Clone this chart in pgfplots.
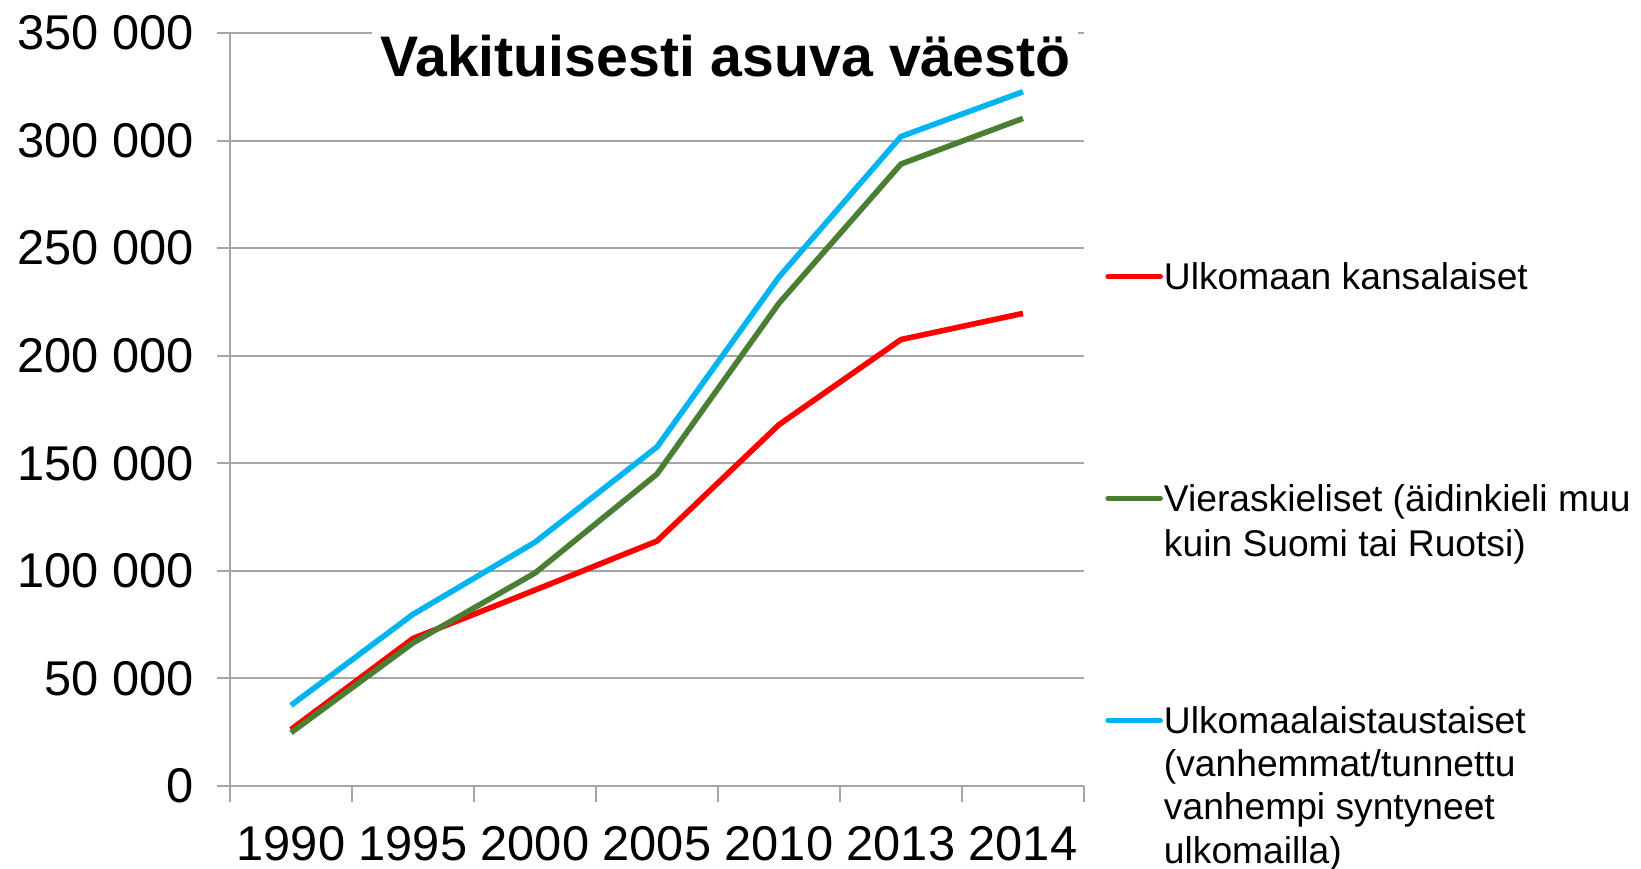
\documentclass[border=0pt]{standalone}
\usepackage{fontspec}
\setmainfont{Liberation Sans}
\usepackage{pgfplots}
\pgfplotsset{compat=1.18}
\definecolor{cred}{RGB}{255,0,0}
\definecolor{cgreen}{RGB}{74,126,50}
\definecolor{cblue}{RGB}{0,180,240}
\definecolor{cgrid}{RGB}{166,166,166}
\begin{document}
\begin{tikzpicture}
\useasboundingbox (-115pt,-41pt) rectangle (705.5pt,393pt);
\begin{axis}[
  scale only axis,
  width=427pt, height=376.5pt,
  xmin=-0.5, xmax=6.5,
  ymin=0, ymax=350000,
  scaled y ticks=false,
  axis x line=bottom, axis y line=left,
  axis line style={-, draw=cgrid, line width=1pt},
  tick align=outside,
  xtick={0,1,2,3,4,5,6},
  xticklabels={1990,1995,2000,2005,2010,2013,2014},
  major x tick style={draw=none},
  minor xtick={-0.5,0.5,1.5,2.5,3.5,4.5,5.5,6.5},
  minor x tick style={draw=cgrid, line width=1pt},
  minor tick length=8pt,
  major tick length=6.5pt,
  ytick={0,50000,100000,150000,200000,250000,300000,350000},
  yticklabels={0,50 000,100 000,150 000,200 000,250 000,300 000,350 000},
  y tick style={draw=cgrid, line width=1pt},
  ymajorgrids,
  grid style={draw=cgrid, line width=1pt},
  tick label style={font=\fontsize{24.4}{28}\selectfont, text=black},
  xticklabel style={yshift=-10pt},
  yticklabel style={xshift=-8pt},
  title={\bfseries Vakituisesti asuva väestö},
  title style={at={(rel axis cs:0.58,1)}, anchor=base, yshift=-28pt,
    fill=white, inner xsep=4pt, inner ysep=1pt, text height=30pt,
    font=\fontsize{28.6}{32}\selectfont},
  legend style={at={(rel axis cs:1,1)}, anchor=north west, xshift=10.5pt, yshift=-114pt,
    draw=none, fill=none, inner sep=0pt, row sep=0pt, column sep=0.5pt,
    font=\fontsize{18.6}{22.5}\selectfont,
    nodes={inner sep=0pt, text height=14pt, text depth=97pt}},
  legend cell align=left,
  legend image code/.code={\draw[#1, line cap=round] (0pt,48pt) -- (26pt,48pt);},
  every axis plot/.append style={line width=2.8pt, line join=round},
  clip=false,
]
\addplot[cred] coordinates {(0,26255) (1,68566) (2,91074) (3,113852) (4,167954) (5,207511) (6,219675)};
\addlegendentry{Ulkomaan kansalaiset}
\addplot[cgreen] coordinates {(0,24783) (1,66500) (2,99000) (3,145000) (4,224400) (5,289100) (6,310300)};
\addlegendentry{{\begin{tabular}[t]{@{}l@{}}Vieraskieliset (äidinkieli muu\\kuin Suomi tai Ruotsi)\end{tabular}}}
\addplot[cblue] coordinates {(0,37500) (1,79800) (2,113300) (3,157600) (4,236600) (5,301900) (6,322700)};
\addlegendentry{{\def\arraystretch{0.96}\begin{tabular}[t]{@{}l@{}}Ulkomaalaistaustaiset\\(vanhemmat/tunnettu\\vanhempi syntyneet\\ulkomailla)\end{tabular}}}
\end{axis}
\end{tikzpicture}
\end{document}
